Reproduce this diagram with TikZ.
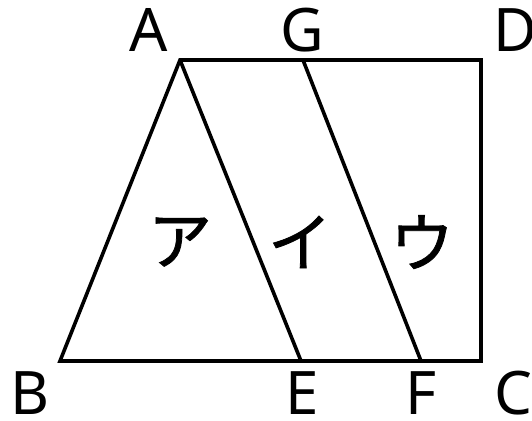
\documentclass[tikz,border=0pt]{standalone}
\usepackage{fontspec}
\setmainfont{Noto Sans}
\newfontfamily\cjk[FakeBold=1.2]{Noto Sans CJK JP}
\begin{document}
\begin{tikzpicture}[x=1pt,y=-1pt,
  lbl/.style={inner sep=0pt,font=\fontsize{60}{60}\selectfont},
  kana/.style={inner sep=0pt,font=\cjk\fontsize{64}{64}\selectfont},
  edge/.style={line width=3.6pt}]
\useasboundingbox (0,0) rectangle (532,420);
\coordinate (A) at (180,60);
\coordinate (G) at (303,60);
\coordinate (D) at (481,60);
\coordinate (B) at (60,361);
\coordinate (E) at (301,361);
\coordinate (F) at (421,361);
\coordinate (C) at (481,361);
\draw[edge] (B) -- (A) -- (D) -- (C) -- cycle;
\draw[edge] (A) -- (E);
\draw[edge] (G) -- (F);
\node[lbl] (lA) at (149,30) {A};
\node[lbl] (lG) at (302,30) {G};
\node[lbl] (lD) at (515,30) {D};
\node[lbl] (lB) at (30,393) {B};
\node[lbl] (lE) at (302,393) {E};
\node[lbl] (lF) at (421,393) {F};
\node[lbl] (lC) at (513,393) {C};
\node[kana] (k1) at (180,242) {ア};
\node[kana] (k2) at (300,242) {イ};
\node[kana] (k3) at (422,242) {ウ};
\end{tikzpicture}
\end{document}
